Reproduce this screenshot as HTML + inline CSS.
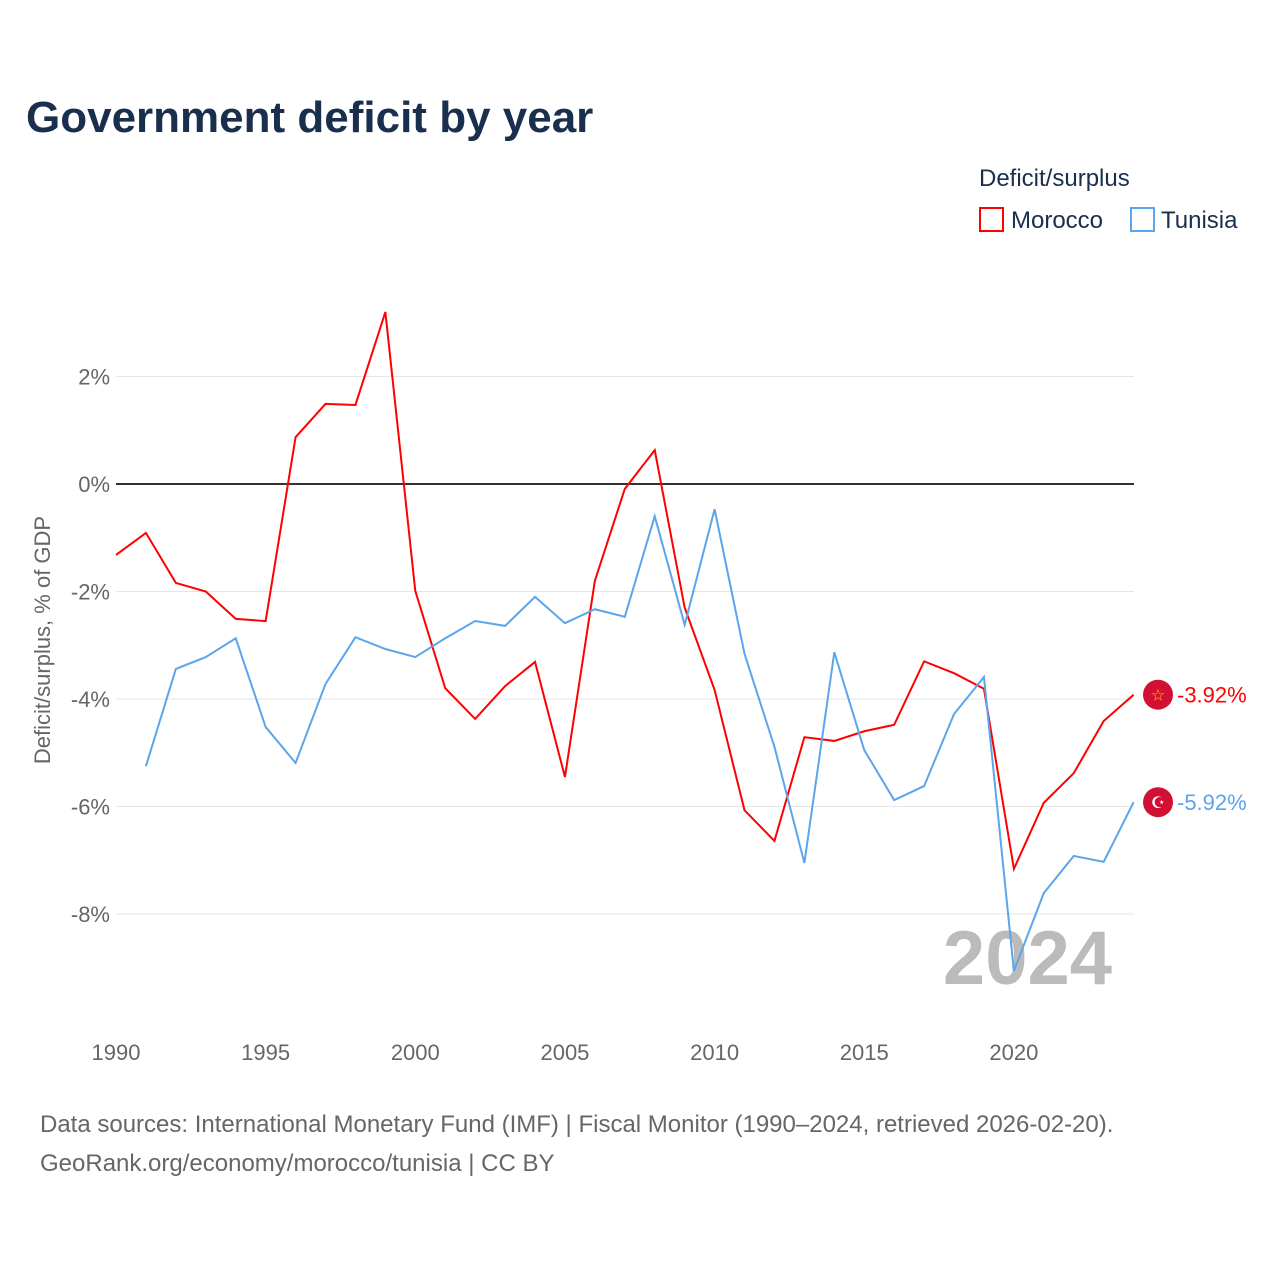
<!DOCTYPE html>
<html><head><meta charset="utf-8"><style>
body{margin:0;background:#fff;font-family:"Liberation Sans",sans-serif}
</style></head><body>
<svg id="chart" width="1280" height="1280" xmlns="http://www.w3.org/2000/svg" font-family="Liberation Sans, sans-serif">
<text x="26" y="132" font-size="44" font-weight="bold" fill="#1a2e4e">Government deficit by year</text>
<text x="979" y="186" font-size="24" fill="#1a2e4e">Deficit/surplus</text>
<g><rect x="980" y="208" width="23" height="23" fill="none" stroke="#f00" stroke-width="2"/><text x="1011" y="228" font-size="24" fill="#1a2e4e">Morocco</text></g>
<g><rect x="1131" y="208" width="23" height="23" fill="none" stroke="#5aa5ec" stroke-width="2"/><text x="1161" y="228" font-size="24" fill="#1a2e4e">Tunisia</text></g>
<text transform="translate(50,640) rotate(-90)" text-anchor="middle" font-size="22" fill="#666">Deficit/surplus, % of GDP</text>
<text x="1112" y="984" text-anchor="end" font-size="76" font-weight="bold" fill="#bbb">2024</text>
<g id="grid"></g><g id="marks"></g>
<text x="40" y="1132" font-size="24" fill="#666">Data sources: International Monetary Fund (IMF) | Fiscal Monitor (1990–2024, retrieved 2026-02-20).</text>
<text x="40" y="1171" font-size="24" fill="#666">GeoRank.org/economy/morocco/tunisia | CC BY</text>
</svg>
<script>
const years=[];for(let y=1990;y<=2024;y++)years.push(y);
const morocco=[-1.32,-0.91,-1.84,-2.0,-2.51,-2.55,0.87,1.49,1.47,3.2,-1.99,-3.8,-4.37,-3.76,-3.31,-5.45,-1.8,-0.09,0.63,-2.3,-3.83,-6.07,-6.64,-4.71,-4.78,-4.6,-4.48,-3.3,-3.52,-3.81,-7.16,-5.93,-5.38,-4.41,-3.92];
const tunisia=[null,-5.25,-3.44,-3.22,-2.87,-4.52,-5.19,-3.72,-2.85,-3.07,-3.22,-2.87,-2.55,-2.64,-2.1,-2.59,-2.33,-2.47,-0.6,-2.62,-0.47,-3.16,-4.89,-7.05,-3.13,-4.95,-5.88,-5.62,-4.28,-3.59,-9.06,-7.61,-6.92,-7.03,-5.92];
const yTicks=[2,0,-2,-4,-6,-8];
const xTicks=[1990,1995,2000,2005,2010,2015,2020];
const X=y=>116+(y-1990)*29.93, Y=v=>484-v*53.75;
const NS="http://www.w3.org/2000/svg";
const grid=document.getElementById('grid'),marks=document.getElementById('marks');
function mk(t,a,p){const e=document.createElementNS(NS,t);for(const k in a)e.setAttribute(k,a[k]);p.appendChild(e);return e;}
yTicks.forEach(v=>{
 const l=mk('line',{x1:116,x2:1134,y1:Y(v),y2:Y(v),stroke:v===0?'#333':'#e6e6e6','stroke-width':v===0?2:1},grid);
 
 
 const t=mk('text',{x:110,y:Y(v)+8,'text-anchor':'end','font-size':22,fill:'#666'},grid);t.textContent=v+'%';
 
 
});
xTicks.forEach(v=>{
 const t=mk('text',{x:X(v),y:1060,'text-anchor':'middle','font-size':22,fill:'#666'},grid);t.textContent=v;
 
 
});
function series(vals,color,name,flag){
 let d='';vals.forEach((v,i)=>{if(v===null)return;d+=(d?'L':'M')+X(years[i])+','+Y(v);});
 const p=mk('path',{d:d,fill:'none',stroke:color,'stroke-width':2},marks);
 
 
 const lv=vals[vals.length-1],cy=Y(lv),cx=1158;
 const c=mk('circle',{cx:cx,cy:cy,r:15,fill:'#d21034'},marks);
 
 
 const f=mk('text',{x:cx,y:cy+6,'text-anchor':'middle','font-size':16,fill:flag[1]},marks);f.textContent=flag[0];
 const t=mk('text',{x:1177,y:cy+8,'font-size':22,fill:color},marks);t.textContent=lv.toFixed(2)+'%';
 
 
}
series(morocco,'#f00','morocco',['☆','#fc0']);
series(tunisia,'#5aa5ec','tunisia',['☪','#fff']);
</script>
</body></html>
